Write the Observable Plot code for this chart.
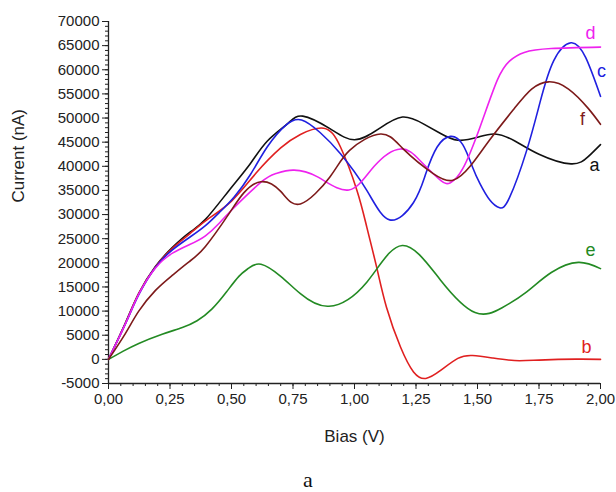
<!DOCTYPE html>
<html>
<head>
<meta charset="utf-8">
<script src="https://cdn.jsdelivr.net/npm/d3@7"></script>
<script src="https://cdn.jsdelivr.net/npm/@observablehq/plot@0.6"></script>
<style>
  html, body { margin: 0; padding: 0; background: #fff; overflow: hidden; }
  #wrap { width: 616px; position: relative; }
  #caption { position: absolute; left: 0; top: 467px; width: 616px; text-align: center; font-family: "Liberation Serif", "DejaVu Serif", serif; font-size: 22px; line-height: 25px; color: #111; }
</style>
</head>
<body>
<div id="wrap"></div>
<div id="caption">a</div>
<script>
// ---- data (bias in V, current in nA) ----
const seriesA = [[0,0],[0.07,7700],[0.123,13700],[0.19,19200],[0.26,23200],[0.33,26300],[0.394,29000],[0.49,35000],[0.577,40600],[0.645,45200],[0.727,48800],[0.79,50400],[0.9,47800],[1.0,45500],[1.1,47800],[1.195,50200],[1.28,48800],[1.35,46800],[1.42,45400],[1.5,46000],[1.57,46700],[1.65,45300],[1.75,42500],[1.88,40500],[1.95,42000],[2.0,44500]];
const seriesB = [[0,0],[0.07,7600],[0.123,13600],[0.19,19100],[0.26,23000],[0.33,26000],[0.4,28900],[0.5,32800],[0.6,38600],[0.7,43800],[0.78,46600],[0.875,47900],[0.943,44000],[1.01,35000],[1.05,27400],[1.09,19100],[1.13,10800],[1.187,2550],[1.24,-2600],[1.29,-3950],[1.35,-2300],[1.42,200],[1.48,800],[1.56,300],[1.65,-250],[1.75,-150],[1.9,50],[2.0,0]];
const seriesC = [[0,0],[0.07,7500],[0.123,13400],[0.19,19000],[0.26,22700],[0.33,25300],[0.394,27700],[0.45,30400],[0.51,33600],[0.577,38300],[0.645,44000],[0.72,48500],[0.785,49600],[0.86,47000],[0.943,42600],[1.05,35000],[1.143,28900],[1.24,32500],[1.29,38500],[1.336,44000],[1.39,46200],[1.44,44500],[1.48,39800],[1.51,36400],[1.55,33000],[1.59,31400],[1.63,33500],[1.7,43300],[1.756,53600],[1.81,61900],[1.88,65600],[1.94,62500],[2.0,54500]];
const seriesD = [[0,0],[0.07,7500],[0.123,13500],[0.19,18900],[0.26,22000],[0.33,23800],[0.394,25600],[0.45,28200],[0.5,30900],[0.62,36700],[0.68,38500],[0.75,39200],[0.85,37800],[0.977,35100],[1.08,40000],[1.187,43600],[1.27,41000],[1.35,37100],[1.39,36600],[1.44,39500],[1.51,48100],[1.58,57800],[1.63,61800],[1.69,63600],[1.8,64400],[2.0,64700]];
const seriesE = [[0,0],[0.06,1700],[0.123,3300],[0.218,5200],[0.3,6600],[0.36,8000],[0.42,10400],[0.48,14000],[0.53,17200],[0.57,18900],[0.62,19700],[0.7,17200],[0.78,13600],[0.896,11000],[1.05,16000],[1.194,23600],[1.35,16400],[1.49,9700],[1.6,10700],[1.7,14000],[1.8,18000],[1.91,20100],[2.0,18800]];
const seriesF = [[0,0],[0.069,5400],[0.123,10000],[0.191,14300],[0.259,17400],[0.327,20200],[0.394,23400],[0.49,30200],[0.55,34500],[0.62,36800],[0.7,34800],[0.78,32200],[0.9,37800],[0.98,43300],[1.106,46700],[1.2,43500],[1.32,38500],[1.4,37100],[1.47,40000],[1.55,45500],[1.65,52000],[1.72,56000],[1.79,57500],[1.87,56000],[1.95,52000],[2.0,48700]];

const seriesNames = ["a", "b", "c", "d", "e", "f"];
const seriesColors = ["#111111", "#e02020", "#2020e0", "#ee22ee", "#238a23", "#7d1a1a"];
const labelX = [1.976, 1.943, 2.004, 1.959, 1.959, 1.927];
const labelY = [40200, 2500, 59600, 67500, 22600, 49700];

const xMajor = [0, 0.25, 0.5, 0.75, 1.0, 1.25, 1.5, 1.75, 2.0];
const xMinor = d3.range(0, 2.0001, 0.05);
const yMajor = d3.range(-5000, 70001, 5000);
const yMinor = d3.range(-5000, 70001, 1000);

// ---- build table ----
const allSeries = [seriesA, seriesB, seriesC, seriesD, seriesE, seriesF];
const rows = allSeries.flatMap((s, i) => s.map(([x, y]) => ({x, y, s: seriesNames[i]})));
const labels = seriesNames.map((n, i) => ({n, x: labelX[i], y: labelY[i]}));
const colorOf = Object.fromEntries(seriesNames.map((n, i) => [n, seriesColors[i]]));

const fmtX = d => d.toFixed(2).replace(".", ",");

const chart = Plot.plot({
  width: 616,
  height: 467,
  marginTop: 21,
  marginBottom: 84,
  marginLeft: 108,
  marginRight: 16,
  style: {fontFamily: "'Liberation Sans', Arial, sans-serif", fontSize: "15px", color: "#222", background: "#fff"},
  x: {domain: [0, 2]},
  y: {domain: [-5000, 70000]},
  marks: [
    Plot.axisX(xMinor, {tickSize: 3, text: null, label: null, stroke: "#222"}),
    Plot.axisX(xMajor, {tickSize: 6, tickFormat: fmtX, tickPadding: 4, label: null, stroke: "#222", fontSize: 15}),
    Plot.axisY(yMinor, {tickSize: 3, text: null, label: null, stroke: "#222"}),
    Plot.axisY(yMajor, {tickSize: 6, tickFormat: d => String(d), tickPadding: 3, label: null, stroke: "#222", fontSize: 15}),
    Plot.ruleX([0], {stroke: "#222", strokeWidth: 1.3}),
    Plot.ruleY([-5000], {stroke: "#222", strokeWidth: 1.3}),
    Plot.line(rows, {x: "x", y: "y", z: "s", stroke: d => colorOf[d.s], strokeWidth: 1.6, curve: "natural"}),
    Plot.text(labels, {x: "x", y: "y", text: "n", fill: d => colorOf[d.n], fontSize: 18}),
    Plot.text(["Bias (V)"], {frameAnchor: "bottom", dy: 58, fontSize: 17, fill: "#222"}),
    Plot.text(["Current (nA)"], {frameAnchor: "left", rotate: -90, dx: -90, fontSize: 17, fill: "#222"})
  ]
});
document.getElementById("wrap").appendChild(chart);
</script>
</body>
</html>
